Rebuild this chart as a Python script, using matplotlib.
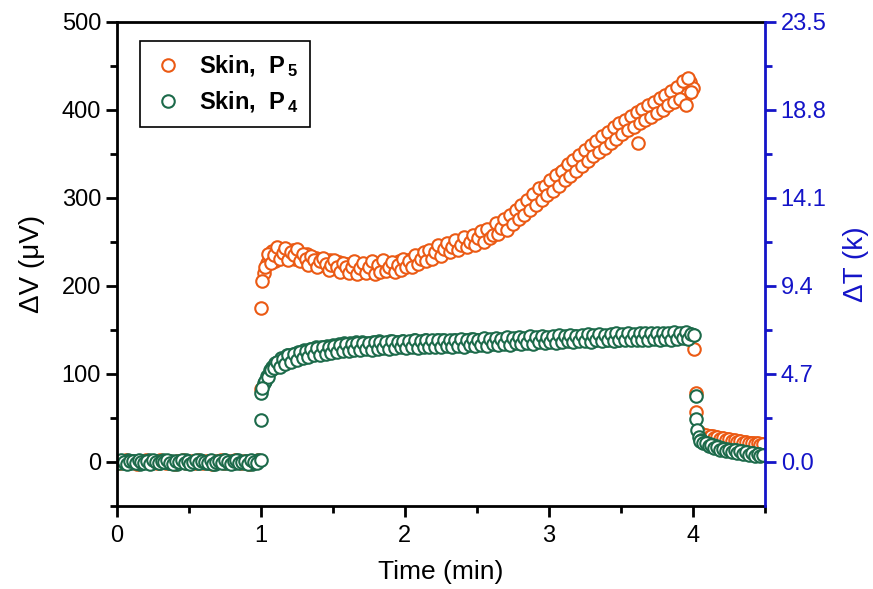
import numpy as np
import matplotlib
matplotlib.use("Agg")
import matplotlib.pyplot as plt
from matplotlib.ticker import MultipleLocator, FixedLocator

plt.rcParams['font.family'] = ['Liberation Sans', 'DejaVu Sans']
plt.rcParams['mathtext.fontset'] = 'custom'
plt.rcParams['mathtext.rm'] = 'Liberation Sans'
plt.rcParams['mathtext.bf'] = 'Liberation Sans:bold'
plt.rcParams['mathtext.default'] = 'bf'

orange = '#EB5A14'
green = '#1C6A4A'
blue = '#1414C8'

# sampling grids (min), two interleaved sweeps
t_base = np.round(np.arange(0.0, 0.99, 0.02), 2)
t_base_b = np.round(np.arange(0.01, 0.98, 0.02), 2)
t_main = np.round(np.arange(1.0, 4.001, 0.02), 2)
t_main_b = np.round(np.arange(1.03, 3.991, 0.02), 2)
t_tail = np.round(np.arange(4.04, 4.501, 0.02), 2)
t_tail_b = np.round(np.arange(4.05, 4.491, 0.02), 2)

# baseline before heating (uV)
p5_base = [1, -1, 0, 2, -1, 1, 0, -2, 1, 0, 2, -1, 0, 1, -1, 2, 0, -1, 1, 0,
           -2, 1, 0, 2, -1, 0, 1, -1, 2, 0, -1, 1, 0, -2, 1, 0, 2, -1, 0, 1,
           -1, 2, 0, -1, 1, 0, -2, 1, 0, 2]
p4_base = [0, 1, -1, 0, 2, -1, 1, 0, -2, 1, 0, 2, -1, 0, 1, -1, 2, 0, -1, 1,
           0, -2, 1, 0, 2, -1, 0, 1, -1, 2, 0, -1, 1, 0, -2, 1, 0, 2, -1, 0,
           1, -1, 2, 0, -1, 1, 0, -2, 1, 2]
p4_base_b = [-1, 2, 0, -2, 1, 1, -1, 2, 0, -1, 1, -2, 2, 0, -1, 1, 0, 2, -1, -2,
             1, 0, 2, -1, 1, -2, 0, 2, -1, 1, 0, -1, 2, -2, 0, 1, -1, 2, 0, -2,
             1, 2, -1, 0, 1, -2, 2, 0, -1]

# heating period 1.00 - 4.00 min
p5_main = [175, 215, 226, 232, 240, 228, 238, 242, 233, 240,
           236, 241, 230, 238, 233, 228, 236, 230, 226, 232,
           224, 230, 227, 222, 229, 226, 220, 227, 223, 218,
           225, 221, 226, 218, 223, 216, 222, 219, 225, 217,
           222, 219, 226, 220, 224, 218, 225, 221, 228, 222,
           227, 224, 230, 226, 233, 229, 236, 232, 238, 235,
           241, 236, 243, 239, 245, 241, 247, 243, 249, 245,
           251, 247, 253, 249, 255, 252, 258, 254, 261, 257,
           264, 260, 268, 264, 272, 268, 277, 273, 282, 278,
           288, 284, 294, 290, 300, 296, 306, 301, 310, 306,
           316, 311, 322, 317, 328, 323, 334, 329, 340, 334,
           345, 339, 350, 345, 356, 350, 361, 355, 366, 360,
           371, 365, 376, 370, 380, 375, 385, 379, 389, 383,
           393, 362, 396, 390, 400, 394, 404, 398, 408, 402,
           412, 406, 416, 410, 420, 414, 424, 430, 418, 432,
           425]
p5_main_b = [222, 236, 226, 235, 244, 230, 237, 243, 229, 238,
             235, 242, 228, 236, 231, 224, 234, 229, 221, 228,
             232, 225, 218, 224, 229, 222, 216, 226, 221, 215,
             222, 228, 214, 220, 226, 215, 221, 228, 214, 224,
             216, 229, 217, 221, 227, 216, 224, 218, 231, 221,
             228, 222, 235, 225, 231, 239, 228, 241, 231, 238,
             246, 234, 242, 249, 238, 244, 252, 241, 247, 255,
             244, 250, 258, 247, 254, 262, 250, 265, 254, 258,
             271, 259, 266, 276, 264, 281, 270, 286, 276, 292,
             281, 297, 286, 304, 292, 311, 298, 314, 303, 320,
             308, 326, 314, 331, 320, 338, 325, 343, 331, 349,
             336, 354, 342, 360, 347, 365, 352, 370, 357, 375,
             362, 380, 367, 385, 372, 389, 377, 393, 381, 398,
             385, 401, 388, 405, 392, 409, 396, 413, 400, 417,
             405, 421, 409, 426, 412, 433, 405, 436, 420]
p4_main = [78, 90, 98, 104, 108, 112, 114, 118, 116, 121,
           119, 123, 121, 125, 122, 127, 124, 128, 126, 130,
           127, 131, 128, 132, 129, 133, 130, 134, 131, 135,
           131, 135, 132, 136, 132, 136, 133, 135, 131, 136,
           133, 137, 132, 135, 134, 137, 131, 136, 134, 137,
           132, 136, 135, 138, 133, 136, 134, 138, 135, 137,
           133, 138, 136, 139, 134, 137, 135, 139, 136, 138,
           134, 139, 136, 140, 135, 138, 137, 140, 135, 139,
           137, 140, 136, 139, 138, 141, 136, 140, 137, 141,
           138, 140, 136, 141, 138, 140, 137, 142, 138, 141,
           139, 142, 137, 141, 139, 142, 138, 141, 140, 143,
           138, 142, 139, 141, 140, 143, 138, 142, 140, 143,
           139, 142, 141, 144, 139, 143, 140, 143, 141, 144,
           140, 143, 141, 145, 140, 144, 142, 145, 141, 144,
           142, 145, 141, 146, 142, 145, 143, 146, 142, 145,
           144]
p4_main_b = [92, 97, 104, 107, 113, 108, 117, 111, 121, 114,
             123, 116, 125, 118, 126, 119, 128, 121, 129, 122,
             130, 123, 131, 124, 132, 125, 133, 126, 134, 126,
             134, 127, 135, 127, 135, 128, 135, 127, 136, 128,
             136, 129, 136, 128, 137, 129, 136, 130, 137, 129,
             137, 130, 138, 129, 137, 131, 138, 130, 138, 131,
             139, 130, 138, 132, 139, 131, 139, 132, 140, 131,
             139, 133, 140, 132, 139, 133, 141, 132, 140, 134,
             141, 133, 140, 134, 142, 133, 141, 135, 142, 134,
             141, 135, 143, 134, 142, 136, 143, 135, 142, 136,
             143, 135, 144, 136, 143, 137, 144, 136, 143, 137,
             144, 137, 145, 136, 144, 138, 145, 137, 144, 138,
             145, 137, 146, 138, 145, 139, 146, 138, 145, 139,
             146, 139, 147, 138, 146, 140, 147, 139, 146, 140,
             147, 139, 148, 140, 147, 141, 148, 140, 145]

# jump points at switch-on / switch-off
p5_jump_t = [1.0, 1.01, 4.01, 4.02, 4.025]
p5_jump = [83, 205, 128, 78, 57]
p4_jump_t = [1.0, 1.0, 1.01, 4.01, 4.02, 4.025, 4.03]
p4_jump = [2, 48, 84, 144, 75, 49, 36]

# cooling tail 4.04 - 4.50 min
p5_tail = [34, 32, 31, 30, 29, 29, 28, 27, 27, 26, 26, 25,
           25, 24, 24, 23, 23, 22, 22, 21, 21, 20, 20, 19]
p5_tail_b = [31, 29, 31, 28, 30, 27, 28, 26, 27, 25, 26, 24,
             25, 23, 24, 22, 23, 21, 22, 20, 21, 19, 20]
p4_tail = [28, 25, 23, 21, 20, 19, 18, 17, 16, 15, 15, 14,
           13, 13, 12, 12, 11, 11, 10, 10, 9, 9, 8, 8]
p4_tail_b = [24, 21, 22, 18, 19, 16, 17, 14, 15, 12, 14, 11,
             13, 10, 12, 9, 11, 8, 10, 7, 9, 7, 8]

fig = plt.figure(figsize=(8.73, 5.89), dpi=100)
ax = fig.add_axes([0.134, 0.141, 0.742, 0.822])

mk = dict(marker='o', ls='none', ms=9, mew=1.5, mfc='white')

t5 = np.concatenate([t_base, t_main, t_main_b, p5_jump_t, t_tail, t_tail_b])
v5 = np.concatenate([p5_base, p5_main, p5_main_b, p5_jump, p5_tail, p5_tail_b])
t4 = np.concatenate([t_base, t_base_b, t_main, t_main_b, p4_jump_t, t_tail, t_tail_b])
v4 = np.concatenate([p4_base, p4_base_b, p4_main, p4_main_b, p4_jump, p4_tail, p4_tail_b])

ax.plot(t5, v5, color=orange, mec=orange, label=r'Skin,  P$_{\,5}$', **mk)
ax.plot(t4, v4, color=green, mec=green, label=r'Skin,  P$_{\,4}$', **mk)

ax.set_xlim(0, 4.5)
ax.set_ylim(-50, 500)
ax.xaxis.set_major_locator(MultipleLocator(1))
ax.xaxis.set_minor_locator(MultipleLocator(0.5))
ax.yaxis.set_major_locator(MultipleLocator(100))
ax.yaxis.set_minor_locator(MultipleLocator(50))
ax.tick_params(which='major', direction='out', length=8, width=2, labelsize=17)
ax.tick_params(which='minor', direction='out', length=5, width=2)
ax.tick_params(axis='x', pad=6)
for s in ax.spines.values():
    s.set_linewidth(2)
ax.spines['right'].set_visible(False)

ax.set_xlabel('Time (min)', fontsize=19, labelpad=9)
ax.set_ylabel('\u0394V (\u03bcV)', fontsize=20, labelpad=12)

# right axis, temperature difference
ax2 = ax.twinx()
ax2.set_ylim(-50 * 0.047, 500 * 0.047)
ax2.yaxis.set_major_locator(FixedLocator([0.0, 4.7, 9.4, 14.1, 18.8, 23.5]))
ax2.yaxis.set_minor_locator(FixedLocator([2.35, 7.05, 11.75, 16.45, 21.15]))
ax2.yaxis.set_major_formatter(plt.FuncFormatter(lambda v, p: f'{v:.1f}'))
ax2.tick_params(which='major', direction='out', length=8, width=2, labelsize=17,
                colors=blue)
ax2.tick_params(which='minor', direction='out', length=5, width=2, colors=blue)
for k in ['left', 'top', 'bottom']:
    ax2.spines[k].set_visible(False)
ax2.spines['right'].set_color(blue)
ax2.spines['right'].set_linewidth(2)
ax2.set_ylabel('\u0394T (k)', fontsize=20, color=blue, labelpad=12)

leg = ax.legend(loc='upper left', bbox_to_anchor=(0.035, 0.96), borderaxespad=0,
                fancybox=False, edgecolor='black', framealpha=1,
                prop={'weight': 'bold', 'size': 17},
                handletextpad=0.6, borderpad=0.5, labelspacing=0.45, handlelength=1.4)
leg.get_frame().set_linewidth(1.2)

fig.savefig('out.png', dpi=100)
